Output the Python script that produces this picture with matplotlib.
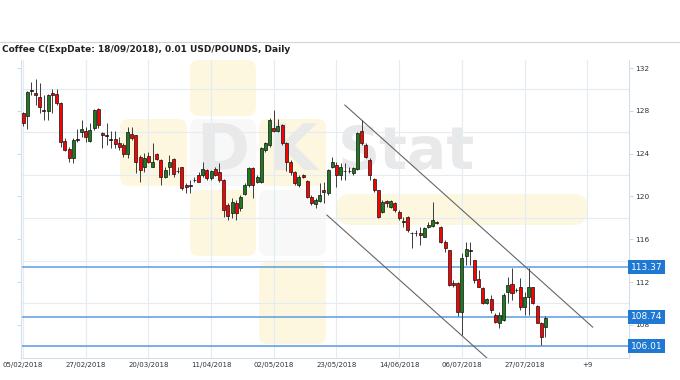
import matplotlib
matplotlib.use("Agg")
import matplotlib.pyplot as plt
import matplotlib.transforms as mtransforms
from matplotlib.patches import FancyBboxPatch
from matplotlib.lines import Line2D

# daily candles, 05/02/2018 onwards
opens = [127.76, 127.54, 129.9, 129.7, 129.32, 128.1, 128.01, 129.63, 129.57, 128.7,
         125.18, 124.43, 123.62, 125.3, 126.05, 126.11, 125.2, 126.36, 128.17, 125.9,
         125.72, 125.31, 125.36, 125.02, 124.8, 123.96, 125.83, 125.74, 123.65, 122.78,
         123.78, 122.78, 123.96, 123.4, 121.84, 122.78, 123.5, 122.38, 122.72, 121.06,
         121.05, 121.6, 122.0, 122.0, 122.47, 121.69, 122.53, 122.31, 121.53, 119.2,
         118.42, 119.36, 118.95, 120.2, 121.07, 122.7, 121.32, 121.38, 124.34, 124.81,
         126.43, 126.12, 126.68, 125.0, 123.25, 122.25, 121.07, 122.0, 121.44, 119.98,
         119.27, 119.58, 120.6, 120.3, 122.78, 122.93, 122.0, 122.38, 122.4, 122.15,
         122.53, 126.14, 124.8, 123.4, 121.6, 120.6, 118.57, 119.57, 119.04, 119.42,
         118.57, 117.7, 118.1, 116.58, 116.62, 116.6, 116.24, 117.11, 117.24, 117.64,
         117.17, 115.77, 114.99, 111.9, 111.94, 109.23, 114.43, 114.97, 114.05, 112.28,
         111.4, 110.0, 110.41, 108.91, 108.13, 108.45, 111.1, 111.78, 111.25, 111.5,
         109.7, 110.63, 111.5, 109.75, 108.13, 107.82]
highs = [127.9, 129.88, 130.7, 131.0, 130.56, 129.47, 129.57, 130.03, 130.0, 128.8,
         125.5, 124.65, 125.42, 126.3, 127.14, 126.5, 126.83, 128.17, 128.23, 126.05,
         126.83, 126.1, 126.1, 125.58, 125.0, 126.52, 126.5, 125.74, 123.87, 124.03,
         124.18, 124.96, 124.03, 123.46, 122.78, 123.87, 123.56, 122.78, 122.78, 121.22,
         121.53, 121.84, 122.31, 123.25, 122.53, 122.47, 122.78, 123.15, 121.6, 119.4,
         119.82, 119.67, 120.14, 121.22, 122.78, 122.78, 122.0, 124.65, 125.1, 127.3,
         128.08, 127.24, 126.8, 125.1, 123.4, 122.38, 122.0, 122.07, 121.54, 120.14,
         119.82, 121.22, 121.38, 122.56, 123.72, 123.24, 123.09, 123.09, 122.78, 122.78,
         126.05, 127.14, 124.96, 123.55, 121.69, 120.6, 119.66, 119.66, 119.66, 119.5,
         118.73, 118.1, 118.17, 116.7, 116.85, 117.17, 117.11, 117.64, 119.5, 117.7,
         117.24, 115.93, 114.99, 112.2, 112.03, 114.68, 115.77, 115.77, 114.05, 113.12,
         111.5, 110.5, 110.78, 109.07, 109.22, 110.94, 112.5, 113.27, 111.4, 112.34,
         111.1, 113.27, 111.56, 109.85, 108.29, 108.82]
lows = [126.6, 126.27, 129.5, 128.54, 127.76, 127.14, 127.14, 127.76, 128.54, 124.65,
        124.2, 123.25, 123.1, 125.1, 125.58, 125.1, 125.1, 126.2, 126.36, 124.5,
        124.8, 124.5, 124.5, 124.33, 123.7, 123.56, 125.27, 122.16, 121.38, 122.31,
        123.09, 122.78, 123.4, 121.07, 121.69, 122.0, 121.84, 122.16, 120.6, 120.29,
        120.29, 121.38, 121.38, 121.84, 121.53, 121.53, 121.9, 121.38, 118.1, 117.8,
        117.95, 117.8, 118.6, 120.1, 120.9, 119.82, 121.22, 121.22, 124.18, 124.65,
        126.06, 126.06, 124.8, 122.4, 122.0, 121.07, 120.9, 121.7, 119.82, 119.2,
        118.89, 119.51, 119.36, 120.14, 122.63, 120.9, 121.53, 121.53, 122.16, 122.0,
        122.47, 124.8, 123.55, 121.53, 120.44, 117.95, 118.42, 119.04, 118.9, 118.57,
        117.8, 117.17, 116.7, 115.15, 116.3, 115.46, 116.18, 117.02, 117.17, 117.42,
        115.62, 114.84, 111.6, 111.5, 108.8, 107.04, 113.59, 113.59, 111.87, 111.56,
        109.94, 109.9, 109.07, 108.13, 107.67, 108.4, 110.0, 110.31, 111.1, 109.38,
        108.91, 108.91, 109.94, 108.13, 106.11, 106.89]
closes = [126.83, 129.79, 129.95, 129.44, 128.32, 127.95, 129.44, 129.47, 128.7, 125.11,
          124.33, 123.56, 125.27, 125.36, 126.33, 125.58, 126.2, 128.07, 126.64, 125.7,
          125.76, 125.35, 124.9, 124.58, 123.95, 126.05, 125.43, 123.25, 122.47, 123.56,
          123.25, 123.25, 123.46, 121.84, 122.47, 123.25, 122.1, 122.42, 120.75, 120.91,
          121.09, 121.53, 121.38, 122.53, 121.69, 122.4, 122.0, 121.53, 118.73, 118.2,
          119.51, 118.42, 119.95, 121.07, 122.63, 121.07, 121.85, 124.5, 124.96, 127.14,
          126.12, 126.62, 124.96, 123.2, 122.25, 121.22, 121.85, 121.85, 119.98, 119.36,
          119.67, 120.14, 120.38, 122.47, 123.25, 122.0, 122.78, 122.42, 122.38, 122.62,
          125.89, 124.96, 123.71, 122.0, 120.6, 118.04, 119.5, 119.42, 119.57, 118.73,
          117.95, 117.66, 116.86, 116.62, 116.58, 116.4, 117.02, 117.33, 117.8, 117.48,
          115.77, 115.2, 111.72, 111.75, 109.23, 114.21, 115.05, 115.01, 112.18, 111.56,
          110.0, 110.38, 109.38, 108.29, 108.91, 110.78, 111.72, 111.0, 111.27, 109.7,
          110.63, 111.5, 110.0, 108.2, 106.83, 108.6]

date_labels = ["05/02/2018", "27/02/2018", "20/03/2018", "11/04/2018", "02/05/2018",
               "23/05/2018", "14/06/2018", "06/07/2018", "27/07/2018", "+9"]
label_step = 15

levels = [113.37, 108.74, 106.01]
y_ticks = [108, 112, 116, 120, 124, 128, 132]
y_grid = [106, 110, 114, 118, 122, 126, 130]

# channel lines (bar index, price)
upper_line = ([77.0, 136.3], [128.54, 107.79])
lower_line = ([72.7, 111.0], [118.26, 104.9])

title = "Coffee C(ExpDate: 18/09/2018), 0.01 USD/POUNDS, Daily"

W, H = 680, 380
fig = plt.figure(figsize=(6.8, 3.8), dpi=100)
fig.patch.set_facecolor("white")
ax = fig.add_axes([21 / W, 1 - 358 / H, (629 - 21) / W, (358 - 60) / H])
ax.patch.set_alpha(0)

# faint logo watermark, in pixel coordinates
px = mtransforms.IdentityTransform()


def wm_box(x, y, w, h, color):
    p = FancyBboxPatch((x, H - y - h), w, h, boxstyle="round,pad=0,rounding_size=9",
                       transform=px, fc=color, ec="none", zorder=-5)
    fig.add_artist(p)


yellow = "#fdf7e0"
grey = "#f8f8f8"
wm_box(190, 60, 66, 56, yellow)
wm_box(120, 119, 67, 67, yellow)
wm_box(190, 119, 66, 67, grey)
wm_box(259, 119, 67, 67, yellow)
wm_box(190, 190, 66, 66, yellow)
wm_box(259, 190, 67, 66, grey)
wm_box(259, 262, 67, 82, yellow)
fig.add_artist(FancyBboxPatch((336, H - 225), 252, 31, boxstyle="round,pad=0,rounding_size=15",
                              transform=px, fc=yellow, ec="none", zorder=-5))
wm_grey = "#e9e9e9"
fig.text(223 / W, 1 - 152 / H, "D", fontsize=46, fontweight="bold", color=wm_grey,
         ha="center", va="center", zorder=-4)
fig.text(292 / W, 1 - 152 / H, "K", fontsize=46, fontweight="bold", color=wm_grey,
         ha="center", va="center", zorder=-4)
fig.text(338 / W, 1 - 152 / H, "Stat", fontsize=42, fontweight="bold", color=wm_grey,
         ha="left", va="center", zorder=-4)

# level lines
for lv in levels:
    ax.axhline(lv, color="#5a9de0", lw=1.1, zorder=2)

# trend channel
ax.plot(*upper_line, color="#666666", lw=0.8, zorder=2)
ax.plot(*lower_line, color="#666666", lw=0.8, zorder=2)

# candles
for i, (o, h, l, c) in enumerate(zip(opens, highs, lows, closes)):
    ax.vlines(i, l, h, color="#3c3c3c", lw=0.7, zorder=3)
    if abs(c - o) < 0.08:
        col = "#111111"
        bottom, height = min(o, c) - 0.03, max(abs(c - o), 0.06)
    else:
        col = "#1e7a1e" if c > o else "#ff0000"
        bottom, height = min(o, c), abs(c - o)
    ax.bar(i, height, bottom=bottom, width=0.72, color=col, edgecolor="#111111",
           linewidth=0.5, zorder=4)

ax.set_xlim(-0.5, 145)
ax.set_ylim(104.9, 132.75)

xt = [k * label_step for k in range(len(date_labels))]
ax.set_xticks(xt)
ax.set_xticklabels(date_labels, fontsize=5, color="#333333")
ax.tick_params(axis="x", length=0, pad=3)

ax.set_yticks(y_ticks)
ax.set_yticklabels([str(v) for v in y_ticks], fontsize=5.3, color="#333333")
ax.set_yticks(y_grid, minor=True)
ax.yaxis.set_ticks_position("both")
ax.tick_params(axis="y", which="major", direction="out", length=3, width=0.6,
               color="#c4d2e0", labelleft=False, labelright=True, pad=1.5)
ax.tick_params(axis="y", which="minor", length=0)

ax.grid(axis="x", which="major", color="#e3ecf5", lw=0.8, zorder=0)
ax.grid(axis="y", which="minor", color="#e3ecf5", lw=0.8, zorder=0)

for side in ["left", "right", "bottom"]:
    ax.spines[side].set_color("#d3dfeb")
    ax.spines[side].set_linewidth(0.8)
ax.spines["top"].set_visible(False)

# price boxes on the right axis
trans = mtransforms.blended_transform_factory(ax.transAxes, ax.transData)
for lv in levels:
    ax.text(1.003, lv, f"{lv:.2f}", transform=trans, ha="left", va="center",
            fontsize=6.5, color="white", clip_on=False, zorder=6,
            bbox=dict(boxstyle="square,pad=0.28", fc="#1f78d1", ec="none"))

# header
fig.add_artist(Line2D([0, 1], [1 - 42 / H] * 2, transform=fig.transFigure,
                      color="#d4d4d4", lw=0.8))
fig.text(2 / W, 1 - 50 / H, title, fontsize=6.5, fontweight="bold", color="#222222",
         ha="left", va="center")

fig.savefig("out.png", dpi=100, facecolor="white")
